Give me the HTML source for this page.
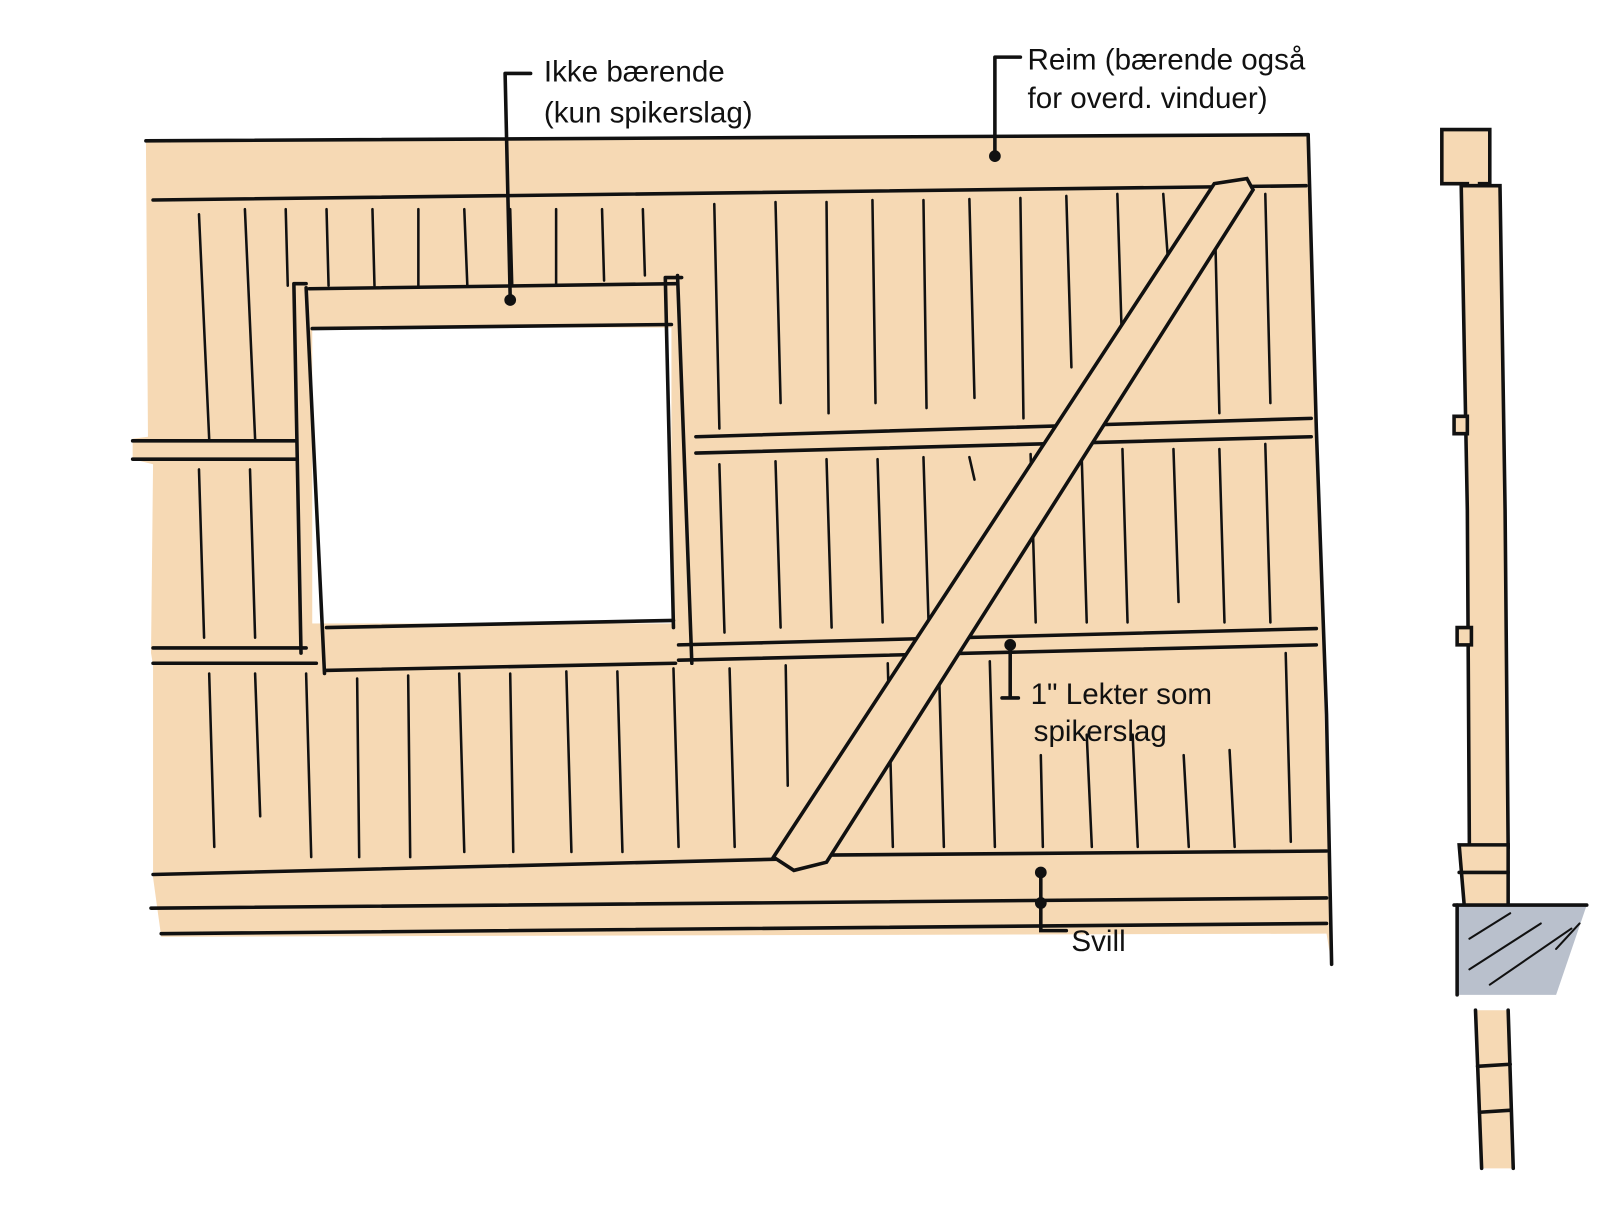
<!DOCTYPE html>
<html><head><meta charset="utf-8"><style>
html,body{margin:0;padding:0;background:#fff;width:1600px;height:1211px;overflow:hidden}
svg{display:block}
text{font-family:"Liberation Sans",sans-serif;font-size:29px;fill:#111}
</style></head><body>
<svg width="1600" height="1211" viewBox="0 0 1600 1211" xmlns="http://www.w3.org/2000/svg">
<g transform="scale(1.0204)">
<g stroke="#111" stroke-width="3.5" fill="none" stroke-linecap="round">
<path d="M143,138 L1282,132 L1290,420 L1305,945 L1300,915 L158,918 L150,860 L150,652 L148,640 L150,455 L130,450 L130,430 L145,428 Z" fill="#f6d9b4" stroke="none"/>
<rect x="306" y="321" width="352" height="290" fill="#fff" stroke="none"/>
<path d="M143,138 L1282,132"/>
<path d="M1282,132 L1290,420 L1300,700 L1305,945"/>
<path d="M150,196 L1280,182"/>
<path d="M288,278 L300,278 M288,278 L295,640 M300,282 L318,660"/>
<path d="M303,283 L662,278"/>
<path d="M306,322 L658,318"/>
<path d="M320,615 L660,608"/>
<path d="M652,272 L668,272 M652,272 L660,615 M664,270 L678,650"/>
<path d="M318,657 L662,650"/>
<path d="M130,432 L290,432 M130,450 L290,450"/>
<path d="M150,635 L300,635 M150,650 L310,650"/>
<path d="M682,428 L1285,410 M682,444 L1285,428"/>
<path d="M665,632 L1290,616 M665,647 L1290,632"/>
<path d="M150,857 L762,842 M810,838 L1300,834"/>
<path d="M148,890 L1300,880"/>
<path d="M158,915 L1300,905"/>
<g stroke-width="2.5">
<path d="M195,210 L205,430 M240,205 L250,430 M280,205 L282,280 M320,205 L322,280 M365,205 L367,280 M410,205 L410,280 M455,205 L458,280 M500,205 L502,280 M545,205 L545,280 M590,205 L592,275 M630,205 L632,270"/>
<path d="M700,200 L705,420 M760,198 L765,395 M810,198 L812,405 M855,196 L858,395 M905,196 L908,400 M950,195 L955,390 M1000,194 L1003,410 M1045,192 L1050,360 M1095,190 L1100,350 M1140,190 L1145,260 M1190,190 L1195,405 M1240,190 L1245,395"/>
<path d="M195,460 L200,625 M245,460 L250,625"/>
<path d="M705,455 L710,620 M760,452 L765,615 M810,450 L815,615 M860,450 L865,610 M905,448 L910,610 M950,448 L955,470 M1010,445 L1015,610 M1060,445 L1065,610 M1100,440 L1105,610 M1150,440 L1155,590 M1195,440 L1200,610 M1240,435 L1245,610"/>
<path d="M205,660 L210,830 M250,660 L255,800 M300,660 L305,840 M350,665 L352,840 M400,662 L402,840 M450,660 L455,835 M500,660 L503,835 M555,658 L560,835 M605,658 L610,835 M660,655 L665,830 M715,655 L720,830 M770,652 L772,770"/>
<path d="M870,650 L875,830 M920,648 L925,830 M970,648 L975,830 M1020,740 L1022,830 M1065,720 L1070,830 M1110,720 L1115,830 M1160,740 L1165,830 M1205,735 L1210,830 M1260,640 L1265,825"/>
</g>
<path d="M1190,180 L1222,175 L1228,186 L810,845 L778,853 L758,840 Z" fill="#f6d9b4"/>
<path d="M495,72 L520,72 M495,72 L500,292"/>
<circle cx="500" cy="294" r="4" fill="#111"/>
<path d="M975,56 L1000,56 M975,56 L975,152"/>
<circle cx="975" cy="153" r="4" fill="#111"/>
<path d="M990,630 L990,684 M982,684 L998,684"/>
<circle cx="990" cy="632" r="4" fill="#111"/>
<path d="M1020,855 L1020,912 L1045,912"/>
<circle cx="1020" cy="855" r="4" fill="#111"/><circle cx="1020" cy="885" r="4" fill="#111"/>
<path d="M1413,127 L1460,127 L1460,180 L1450,180 L1450,188 L1438,188 L1438,180 L1413,180 Z" fill="#f6d9b4"/>
<path d="M1432,182 L1470,182 L1475,500 L1478,830 L1440,830 L1438,500 Z" fill="#f6d9b4"/>
<path d="M1425,408 L1438,408 L1438,425 L1425,425 Z M1428,615 L1442,615 L1442,632 L1428,632 Z" fill="#f6d9b4"/>
<path d="M1430,828 L1478,828 L1478,888 L1435,888 Z" fill="#f6d9b4"/>
<path d="M1430,855 L1478,855"/>
<path d="M1428,887 L1555,887 L1525,975 L1428,975 Z" fill="#b9c0cc" stroke="none"/>
<path d="M1425,887 L1555,887"/>
<path d="M1428,887 L1428,975"/>
<g stroke-width="2"><path d="M1440,920 L1480,895 M1440,950 L1510,905 M1460,965 L1540,910 M1525,930 L1548,905"/></g>
<path d="M1445,990 L1478,990 L1483,1145 L1452,1145 Z" fill="#f6d9b4" stroke="none"/>
<path d="M1446,990 L1452,1145 M1478,990 L1483,1145"/>
<path d="M1448,1045 L1480,1043 M1450,1090 L1481,1088"/>
</g>
<text x="533" y="80">Ikke bærende</text>
<text x="533" y="120">(kun spikerslag)</text>
<text x="1007" y="68">Reim (bærende også</text>
<text x="1007" y="106">for overd. vinduer)</text>
<text x="1010" y="690">1" Lekter som</text>
<text x="1013" y="726">spikerslag</text>
<text x="1050" y="932">Svill</text>
</g>
</svg>
</body></html>
